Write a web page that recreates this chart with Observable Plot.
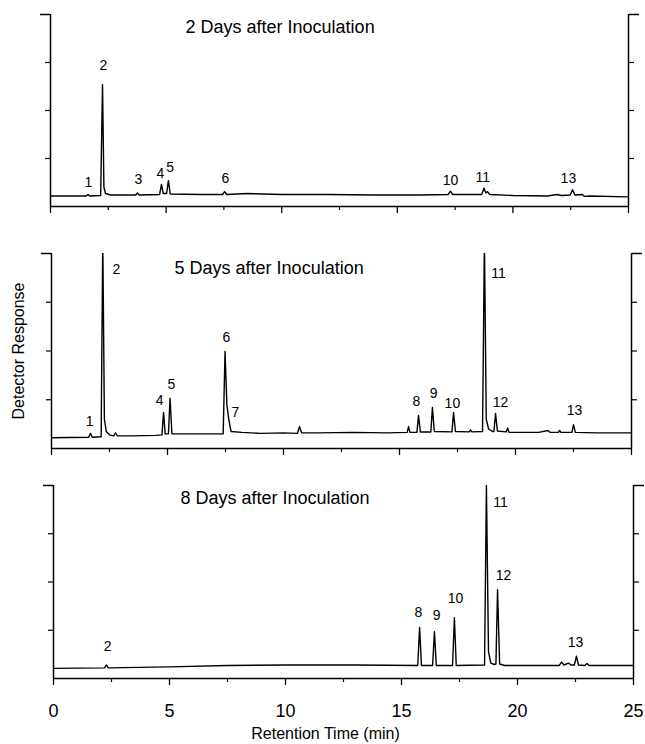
<!DOCTYPE html>
<html><head><meta charset="utf-8">
<script src="https://cdn.jsdelivr.net/npm/d3@7"></script>
<script src="https://cdn.jsdelivr.net/npm/@observablehq/plot@0.6"></script>
<style>
body{margin:0;background:#fff;}
#wrap{position:relative;width:645px;height:744px;font-family:"Liberation Sans",Arial,sans-serif;}
#wrap svg{position:absolute;left:0;}
</style></head><body><div id="wrap"></div>
<script>
// ---- axis / text data ----
const xTicksMajor = [0, 5, 10, 15, 20, 25];
const xTicksMinor = [2.5, 7.5, 12.5, 17.5, 22.5];
const yTicks = [1, 2, 3];
const yTopTick = [4];
const xTitle = "Retention Time (min)";
const yTitle = "Detector Response";
const panelTitles = ["2 Days after Inoculation", "5 Days after Inoculation", "8 Days after Inoculation"];
const titleTime = [9.93, 9.38, 9.55];
const titleResp = [3.73, 3.69, 3.73];

// ---- Day 2 chromatogram ----
const day2Time = [0, 1.55, 1.62, 1.69, 2.17, 2.25, 2.31, 2.38, 2.6, 3.68, 3.76, 3.84, 4.72, 4.8, 4.88, 5.02, 5.1, 5.18, 6.5, 7.44, 7.53, 7.62, 8.5, 10, 12, 14, 16, 17.2, 17.3, 17.4, 18.65, 18.75, 18.83, 18.9, 19.0, 20, 21.5, 21.9, 22.1, 22.48, 22.58, 22.68, 23.0, 23.1, 23.3, 25];
const day2Resp = [0.22, 0.22, 0.25, 0.22, 0.23, 2.54, 0.4, 0.27, 0.24, 0.24, 0.28, 0.24, 0.25, 0.46, 0.27, 0.27, 0.54, 0.26, 0.25, 0.25, 0.31, 0.25, 0.27, 0.25, 0.25, 0.24, 0.24, 0.25, 0.32, 0.25, 0.25, 0.38, 0.28, 0.31, 0.25, 0.23, 0.22, 0.25, 0.23, 0.24, 0.35, 0.24, 0.25, 0.21, 0.22, 0.2];
const day2Labels = ["1", "2", "3", "4", "5", "6", "10", "11", "13"];
const day2LabelTime = [1.64, 2.29, 3.8, 4.75, 5.18, 7.56, 17.3, 18.7, 22.4];
const day2LabelResp = [0.5, 2.94, 0.56, 0.69, 0.81, 0.58, 0.54, 0.6, 0.58];

// ---- Day 5 chromatogram ----
const day5Time = [0, 1.6, 1.68, 1.76, 2.14, 2.21, 2.28, 2.36, 2.5, 2.68, 2.76, 2.84, 3.5, 4.5, 4.76, 4.83, 4.9, 5.04, 5.11, 5.19, 6.5, 7.4, 7.48, 7.56, 7.64, 7.74, 8.2, 9, 10, 10.6, 10.69, 10.78, 11.5, 13, 14.5, 15.33, 15.39, 15.45, 15.75, 15.82, 15.9, 16.35, 16.42, 16.5, 17.26, 17.33, 17.41, 18.0, 18.06, 18.12, 18.58, 18.66, 18.74, 18.84, 19.0, 19.07, 19.14, 19.22, 19.6, 19.66, 19.72, 21.0, 21.4, 21.5, 21.85, 21.9, 21.96, 22.43, 22.5, 22.58, 23.5, 25];
const day5Resp = [0.22, 0.23, 0.31, 0.23, 0.24, 4.3, 0.6, 0.35, 0.28, 0.26, 0.32, 0.26, 0.26, 0.27, 0.28, 0.74, 0.3, 0.3, 1.03, 0.3, 0.3, 0.3, 1.99, 0.9, 0.6, 0.35, 0.33, 0.31, 0.32, 0.31, 0.45, 0.32, 0.32, 0.33, 0.32, 0.33, 0.45, 0.33, 0.33, 0.68, 0.34, 0.34, 0.84, 0.35, 0.34, 0.74, 0.35, 0.34, 0.38, 0.34, 0.35, 4.3, 0.6, 0.4, 0.35, 0.35, 0.72, 0.36, 0.34, 0.42, 0.33, 0.33, 0.37, 0.33, 0.33, 0.37, 0.33, 0.33, 0.49, 0.33, 0.32, 0.32];
const day5Labels = ["1", "2", "4", "5", "6", "7", "8", "9", "10", "11", "12", "13"];
const day5LabelTime = [1.64, 2.8, 4.66, 5.17, 7.54, 7.93, 15.73, 16.47, 17.28, 19.27, 19.35, 22.54];
const day5LabelResp = [0.55, 3.67, 0.98, 1.31, 2.28, 0.74, 0.96, 1.13, 0.92, 3.59, 0.94, 0.78];

// ---- Day 8 chromatogram ----
const day8Time = [0, 2.2, 2.28, 2.36, 5, 7.5, 10, 13, 15.7, 15.78, 15.86, 16.34, 16.42, 16.5, 17.2, 17.28, 17.36, 18.58, 18.66, 18.75, 18.85, 19.0, 19.07, 19.14, 19.23, 19.45, 21.8, 21.9, 22.0, 22.2, 22.3, 22.45, 22.54, 22.63, 22.9, 23.0, 23.08, 25];
const day8Resp = [0.21, 0.22, 0.28, 0.22, 0.24, 0.27, 0.28, 0.28, 0.27, 1.06, 0.27, 0.27, 0.97, 0.27, 0.27, 1.26, 0.27, 0.28, 4.0, 0.55, 0.32, 0.29, 0.3, 1.84, 0.3, 0.27, 0.27, 0.34, 0.28, 0.32, 0.28, 0.28, 0.46, 0.28, 0.27, 0.31, 0.27, 0.27];
const day8Labels = ["2", "8", "9", "10", "11", "12", "13"];
const day8LabelTime = [2.33, 15.73, 16.51, 17.33, 19.27, 19.4, 22.5];
const day8LabelResp = [0.66, 1.37, 1.31, 1.66, 3.65, 2.13, 0.75];

const zipRows = (ts, rs) => ts.map((t, i) => ({t, r: rs[i]}));
const zipLabels = (ls, ts, rs) => ls.map((l, i) => ({label: l, t: ts[i], r: rs[i]}));

const FONT = '"Liberation Sans", Arial, sans-serif';
const wrap = document.getElementById("wrap");

function panel(cfg) {
  const noText = () => "";
  const marks = [
    Plot.ruleY([0], {stroke: "#000", strokeWidth: 1.5}),
    Plot.ruleX([0, 25], {stroke: "#000", strokeWidth: 1.5}),
    Plot.axisY(yTicks, {anchor: "left", tickSize: 5, tickFormat: noText, label: null, strokeWidth: 1.2}),
    Plot.axisY(yTicks, {anchor: "right", tickSize: 5, tickFormat: noText, label: null, strokeWidth: 1.2}),
    Plot.axisY(yTopTick, {anchor: "left", tickSize: 10, tickFormat: noText, label: null, strokeWidth: 1.5}),
    Plot.axisY(yTopTick, {anchor: "right", tickSize: 10, tickFormat: noText, label: null, strokeWidth: 1.5}),
    Plot.axisX(xTicksMinor, {anchor: "bottom", tickSize: 4, tickFormat: noText, label: null, strokeWidth: 1.2}),
    cfg.last
      ? Plot.axisX(xTicksMajor, {anchor: "bottom", tickSize: 7, tickPadding: 19, fontSize: 18, label: null, strokeWidth: 1.3})
      : Plot.axisX(xTicksMajor, {anchor: "bottom", tickSize: 7, tickFormat: noText, label: null, strokeWidth: 1.3}),
    Plot.line(zipRows(cfg.time, cfg.resp), {x: "t", y: "r", stroke: "#000", strokeWidth: 1.4, clip: true}),
    Plot.text(zipLabels(cfg.labels, cfg.labelTime, cfg.labelResp), {x: "t", y: "r", text: "label", fontSize: 14, fill: "#000"}),
    Plot.text([cfg.title], {x: () => cfg.titleT, y: () => cfg.titleR, text: d => d, fontSize: 18, fill: "#000"})
  ];
  if (cfg.yLabel) marks.push(Plot.text([yTitle], {frameAnchor: "left", textAnchor: "middle", rotate: -90, dx: -33, fontSize: 16, fill: "#000"}));
  if (cfg.last) marks.push(Plot.text([xTitle], {frameAnchor: "bottom", textAnchor: "middle", dx: -18, dy: 60, fontSize: 16, fill: "#000"}));
  const svg = Plot.plot({
    width: 645,
    height: cfg.mt + cfg.ph + cfg.mb,
    marginTop: cfg.mt, marginBottom: cfg.mb,
    marginLeft: cfg.ml, marginRight: cfg.mr,
    x: {domain: [0, 25]},
    y: {domain: [0, 4]},
    style: {fontFamily: FONT, background: "transparent", color: "#000"},
    marks
  });
  svg.style.top = cfg.top + "px";
  wrap.appendChild(svg);
}

panel({top: 2, mt: 12, ph: 192, mb: 14, ml: 50, mr: 17,
  time: day2Time, resp: day2Resp, labels: day2Labels, labelTime: day2LabelTime, labelResp: day2LabelResp,
  title: panelTitles[0], titleT: titleTime[0], titleR: titleResp[0]});
panel({top: 241, mt: 12, ph: 195, mb: 14, ml: 51, mr: 14, yLabel: true,
  time: day5Time, resp: day5Resp, labels: day5Labels, labelTime: day5LabelTime, labelResp: day5LabelResp,
  title: panelTitles[1], titleT: titleTime[1], titleR: titleResp[1]});
panel({top: 473, mt: 12, ph: 193, mb: 66, ml: 53, mr: 12, last: true,
  time: day8Time, resp: day8Resp, labels: day8Labels, labelTime: day8LabelTime, labelResp: day8LabelResp,
  title: panelTitles[2], titleT: titleTime[2], titleR: titleResp[2]});
</script>
</body></html>
